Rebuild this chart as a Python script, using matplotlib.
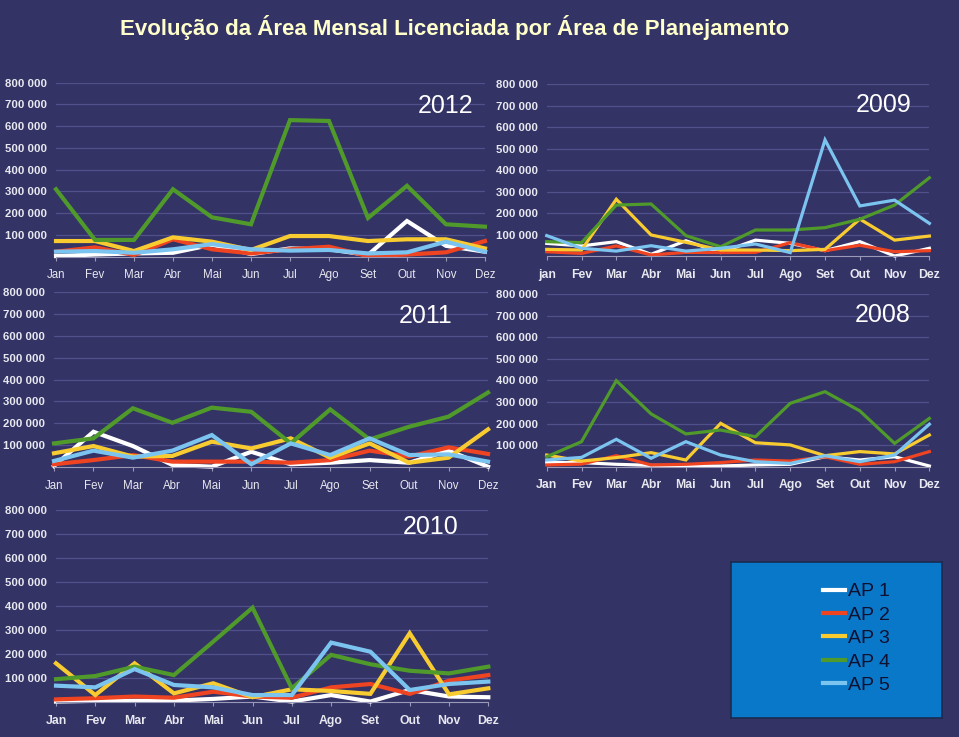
import matplotlib
matplotlib.use("Agg")
import matplotlib.pyplot as plt
from matplotlib.lines import Line2D

BG = "#333366"
GRID = "#50508a"
TXT = "#e8e8f0"
COLORS = ["#ffffff", "#ee4422", "#f8cc30", "#4f9a2a", "#7cc4f0"]
AP_LABELS = ["AP 1", "AP 2", "AP 3", "AP 4", "AP 5"]

months = ["Jan", "Fev", "Mar", "Abr", "Mai", "Jun", "Jul", "Ago", "Set", "Out", "Nov", "Dez"]
months_2009 = ["jan"] + months[1:]
yticks = [100000, 200000, 300000, 400000, 500000, 600000, 700000, 800000]

# 2012
ap1_2012 = [3000, 10000, 15000, 18000, 55000, 12000, 38000, 34000, 8000, 164000, 50000, 23000]
ap2_2012 = [23000, 43000, 8000, 80000, 34000, 15000, 34000, 46000, 3000, 10000, 20000, 72000]
ap3_2012 = [72000, 72000, 26000, 89000, 69000, 31000, 95000, 95000, 72000, 80000, 80000, 38000]
ap4_2012 = [310000, 77000, 77000, 310000, 181000, 149000, 628000, 624000, 178000, 326000, 149000, 138000]
ap5_2012 = [23000, 26000, 18000, 34000, 58000, 34000, 28000, 31000, 15000, 20000, 69000, 23000]

# 2009
ap1_2009 = [59000, 47000, 67000, 8000, 71000, 16000, 74000, 59000, 25000, 67000, 0, 36000]
ap2_2009 = [20000, 12000, 47000, 5000, 17000, 16000, 17000, 62000, 25000, 50000, 20000, 25000]
ap3_2009 = [31000, 28000, 264000, 98000, 64000, 28000, 28000, 25000, 31000, 172000, 74000, 93000]
ap4_2009 = [67000, 62000, 237000, 242000, 95000, 43000, 121000, 121000, 132000, 171000, 237000, 364000]
ap5_2009 = [95000, 36000, 23000, 48000, 23000, 36000, 56000, 16000, 540000, 233000, 260000, 152000]

# 2011
ap1_2011 = [6000, 162000, 97000, 11000, 3000, 71000, 14000, 21000, 33000, 21000, 76000, 3000]
ap2_2011 = [14000, 33000, 56000, 26000, 26000, 26000, 21000, 33000, 76000, 49000, 91000, 61000]
ap3_2011 = [64000, 97000, 49000, 52000, 117000, 86000, 132000, 44000, 109000, 21000, 44000, 173000]
ap4_2011 = [109000, 132000, 269000, 203000, 272000, 253000, 109000, 264000, 127000, 185000, 231000, 341000]
ap5_2011 = [29000, 76000, 44000, 76000, 147000, 14000, 109000, 56000, 132000, 56000, 59000, 26000]

# 2008
ap1_2008 = [19000, 19000, 11000, 6000, 5000, 3000, 8000, 11000, 46000, 31000, 46000, 3000]
ap2_2008 = [8000, 12000, 51000, 8000, 11000, 19000, 31000, 26000, 46000, 11000, 23000, 70000]
ap3_2008 = [54000, 26000, 42000, 65000, 31000, 201000, 111000, 101000, 51000, 70000, 59000, 147000]
ap4_2008 = [46000, 116000, 399000, 245000, 152000, 170000, 139000, 294000, 348000, 259000, 108000, 224000]
ap5_2008 = [31000, 43000, 127000, 39000, 116000, 54000, 23000, 15000, 51000, 23000, 54000, 197000]

# 2010
ap1_2010 = [3000, 6000, 6000, 7000, 14000, 24000, 3000, 30000, 3000, 51000, 24000, 21000]
ap2_2010 = [12000, 17000, 24000, 19000, 44000, 24000, 19000, 62000, 76000, 35000, 90000, 113000]
ap3_2010 = [162000, 30000, 162000, 37000, 79000, 21000, 54000, 47000, 35000, 287000, 33000, 58000]
ap4_2010 = [96000, 109000, 148000, 113000, 252000, 393000, 58000, 197000, 158000, 131000, 120000, 148000]
ap5_2010 = [69000, 62000, 138000, 72000, 62000, 30000, 30000, 248000, 210000, 51000, 76000, 86000]

plt.rcParams["font.family"] = ["Liberation Sans", "DejaVu Sans"]

fig = plt.figure(figsize=(9.59, 7.37), dpi=100, facecolor=BG)

fig.text(0.125, 0.963, "Evolução da Área Mensal Licenciada por Área de Planejamento",
         color="#ffffcc", fontsize=16, fontweight="bold", va="center", ha="left")

ylabels = ["{:,}".format(v).replace(",", " ") for v in yticks]

# year, rect, series, line width, xlabel weight, month labels, year label pos
panels = [
    ("2012", [0.0584, 0.6517, 0.4473, 0.2361],
     [ap1_2012, ap2_2012, ap3_2012, ap4_2012, ap5_2012], 3.0, "normal", months, (0.972, 0.866)),
    ("2009", [0.5701, 0.6526, 0.3990, 0.2334],
     [ap1_2009, ap2_2009, ap3_2009, ap4_2009, ap5_2009], 2.3, "bold", months_2009, (0.954, 0.878)),
    ("2011", [0.0563, 0.3659, 0.4526, 0.2383],
     [ap1_2011, ap2_2011, ap3_2011, ap4_2011, ap5_2011], 3.0, "normal", months, (0.919, 0.864)),
    ("2008", [0.5701, 0.3668, 0.3990, 0.2339],
     [ap1_2008, ap2_2008, ap3_2008, ap4_2008, ap5_2008], 2.3, "bold", months, (0.951, 0.880)),
    ("2010", [0.0584, 0.0471, 0.4508, 0.2613],
     [ap1_2010, ap2_2010, ap3_2010, ap4_2010, ap5_2010], 3.0, "bold", months, (0.930, 0.910)),
]

for year, rect, series, lw, xw, labels, ypos in panels:
    ax = fig.add_axes(rect, facecolor=BG)
    x = range(len(labels))
    for vals, c in zip(series, COLORS):
        ax.plot(x, vals, color=c, lw=lw, solid_joinstyle="miter", clip_on=False)
    ax.set_xlim(0, 11)
    ax.set_ylim(0, 800000)
    ax.set_yticks(yticks, labels=ylabels, fontweight="bold", fontsize=8.2)
    ax.grid(axis="y", color=GRID, lw=0.9)
    ax.set_axisbelow(True)
    ax.set_xticks(list(x), labels=labels, fontweight=xw,
                  fontsize=8.8 if xw == "bold" else 8.3)
    for s in ["top", "right", "left"]:
        ax.spines[s].set_visible(False)
    ax.spines["bottom"].set_color("#9a9ab8")
    ax.tick_params(axis="x", colors="#9a9ab8", labelcolor=TXT, length=3, pad=6)
    ax.tick_params(axis="y", length=0, pad=6.5, labelcolor=TXT)
    ax.text(ypos[0], ypos[1], year, transform=ax.transAxes, ha="right", va="center",
            color="white", fontsize=18)

# legend box
lax = fig.add_axes([731 / 959, 1 - 718 / 737, 211 / 959, 156 / 737], facecolor="#0a78c8")
lax.set_xticks([])
lax.set_yticks([])
for s in lax.spines.values():
    s.set_color("#1a2a50")
    s.set_linewidth(1.2)
handles = [Line2D([], [], color=c, lw=3) for c in COLORS]
lax.legend(handles, AP_LABELS, loc="center", bbox_to_anchor=(0.595, 0.51), frameon=False,
           handlelength=1.1, handletextpad=0.15, labelspacing=0.3, fontsize=14,
           labelcolor="#101030")

fig.savefig("out.png", dpi=100, facecolor=BG)
